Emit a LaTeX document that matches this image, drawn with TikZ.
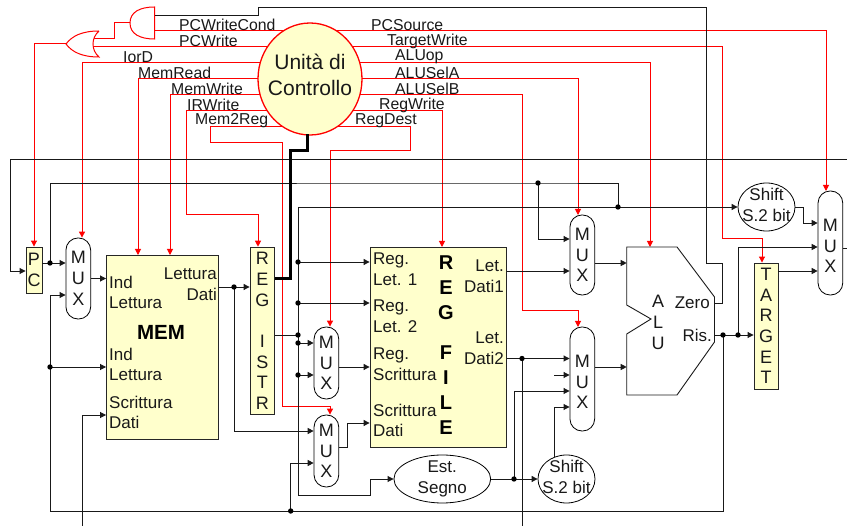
\documentclass[tikz,border=0pt]{standalone}
\usepackage{fontspec}
\setmainfont{Liberation Sans}
\usetikzlibrary{arrows.meta, backgrounds, shapes.geometric}
\definecolor{blockyellow}{HTML}{FFFFCC}
\tikzset{
	wire/.style={line width=0.9pt, color=black!90},
	redwire/.style={line width=1pt, color=red},
	busline/.style={line width=3pt, black},
	siglabel/.style={font=\fontsize{15.8}{18}\selectfont, inner sep=0pt, anchor=west, text=black!90},
	blocktext/.style={font=\fontsize{17}{20.7}\selectfont, inner sep=0pt, anchor=west, align=left, text=black!90},
	blocktextr/.style={blocktext, anchor=east, align=right},
	stacktext/.style={font=\fontsize{17}{20.7}\selectfont, inner sep=0pt, align=center, text=black!90},
	stackletter/.style={stacktext, font=\fontsize{18}{20.7}\selectfont},
	yellowbox/.style={draw=black!85, line width=0.9pt, fill=blockyellow, inner sep=0pt},
	muxbox/.style={draw=black, line width=0.8pt, fill=white, rectangle, rounded corners=12pt, minimum width=24.7pt, inner sep=0pt},
	oval/.style={draw=black, line width=0.8pt, fill=white, ellipse, inner sep=0pt}
}
\begin{document}
\begin{tikzpicture}[x=1pt, y=-1pt, >={Triangle[length=6pt,width=6pt]}]
      \useasboundingbox (0,0) rectangle (847,526);
      % blocks
      \node[yellowbox, minimum width=16pt, minimum height=46pt, stackletter] (pc) at (34,270) {P\\C};
      \node[muxbox, minimum height=81pt, stackletter] (mux0) at (78.3,278.5) {M\\U\\X};
      \node[yellowbox, minimum width=112pt, minimum height=184pt] (mem) at (162.5,347) {};
      \node[yellowbox, minimum width=24.5pt, minimum height=167.7pt, stackletter] (regi) at (262.3,331) {R\\E\\G\\~\\I\\S\\T\\R};
      \node[yellowbox, minimum width=136.7pt, minimum height=200pt] (regf) at (438.4,347) {};
      \node[muxbox, minimum height=72pt, stackletter] (mux1) at (326.4,363) {M\\U\\X};
      \node[muxbox, minimum height=72pt, stackletter] (mux2) at (326.4,451) {M\\U\\X};
      \node[muxbox, minimum height=80pt, stackletter] (mux3) at (582.3,255) {M\\U\\X};
      \node[muxbox, minimum height=104pt] (mux4) at (582.3,379) {};
      \node[stackletter] (mux4txt) at (582.3,382) {M\\U\\X};
      \node[muxbox, minimum height=104pt] (muxp) at (830.4,243) {};
      \node[stackletter] (muxptxt) at (830.4,246) {M\\U\\X};
      \node[yellowbox, minimum width=24pt, minimum height=126pt, stackletter] (target) at (766,326) {T\\A\\R\\G\\E\\T};
      \node[oval, minimum width=96.7pt, minimum height=48pt] (est) at (442.3,479) {};
      \node[stacktext] (esttxt) at (442.3,479) {Est.\\Segno};
      \node[oval, minimum width=57pt, minimum height=48pt] (shift1) at (766.5,207) {};
      \node[stacktext] (shift1txt) at (766.5,205) {Shift\\S.2 bit};
      \node[oval, minimum width=57pt, minimum height=48pt] (shift2) at (566.5,479) {};
      \node[stacktext] (shift2txt) at (566.5,477) {Shift\\S.2 bit};
      \node[draw=red, line width=1.3pt, fill=blockyellow, ellipse, minimum width=104pt, minimum height=112pt, inner sep=0pt] (ctrl) at (310,79) {};
      \node[inner sep=0pt, align=center, font=\fontsize{21}{26}\selectfont, text=black!90] (ctrltxt) at (310,74.5) {Unità di\\Controllo};
      % ALU outline
      \draw[wire] (626.7,247) coordinate (alutop) -- (677,247) -- (714.5,297) -- (714.5,342) -- (677,395) -- (626.7,395)
        -- (626.7,334) -- (651,319) -- (626.7,305) -- cycle;
      \node[stackletter] (alutxt) at (658,322.5) {A\\L\\U};
      \node[blocktextr] (zero) at (710,303) {Zero};
      \node[blocktextr] (ris) at (712,335) {Ris.};
      % gates
      \draw[redwire, fill=white] (154.5,7) .. controls (140,7) and (130,12) .. (130,23) .. controls (130,34) and (140,39) .. (154.5,39) -- cycle;
      \draw[redwire, fill=white] (99,31) .. controls (82,31) and (72,36) .. (66,44) .. controls (72,52) and (82,57) .. (99,57)
        .. controls (91,50) and (91,38) .. (99,31);
      \coordinate (andout) at (130,23);
      \coordinate (andin1) at (154.5,15);
      \coordinate (andin2) at (154.5,31);
      \coordinate (orout) at (66,44);
      \coordinate (orin1) at (93,39);
      \coordinate (orin2) at (93,47);
      % block texts
      \node[blocktext] (memin1) at (109,292.5) {Ind\\Lettura};
      \node[blocktext] (memin2) at (109,364.5) {Ind\\Lettura};
      \node[blocktext] (memin3) at (109,412.5) {Scrittura\\Dati};
      \node[blocktextr] (memout) at (217,284.5) {Lettura\\Dati};
      \node[font=\fontsize{20.5}{24}\selectfont\bfseries, inner sep=0pt] (memname) at (161,332) {MEM};
      \node[blocktext] (regin1) at (373,269) {Reg.\\Let. 1};
      \node[blocktext] (regin2) at (373,316.5) {Reg.\\Let. 2};
      \node[blocktext] (regin3) at (373,364.5) {Reg.\\Scrittura};
      \node[blocktext] (regin4) at (373,420.5) {Scrittura\\Dati};
      \node[blocktextr] (regout1) at (504,276.5) {Let.\\Dati1};
      \node[blocktextr] (regout2) at (504,348.5) {Let.\\Dati2};
      \node[font=\fontsize{20}{25}\selectfont\bfseries, inner sep=0pt, align=center] (regname) at (446,345) {R\\E\\G\\[15pt]F\\I\\L\\E};
      % signal names
      \foreach \sname/\x/\y in {PCWriteCond/179/25, PCWrite/179/41, IorD/123/57, MemRead/138/73, MemWrite/171/89, IRWrite/187/105, Mem2Reg/195/121,
        PCSource/371/25, TargetWrite/387/41, ALUop/395/57, ALUSelA/395/73, ALUSelB/395/89, RegWrite/379/105, RegDest/355/121}
        \node[siglabel] (\sname) at (\x,\y) {\sname};
      % control lines
      \begin{scope}[on background layer]
        \draw[redwire] (ctrl.center |- andin2) -- (andin2);
        \draw[redwire] (andout) -- (114,23) |- (orin1);
        \draw[redwire] (ctrl.center |- orin2) -- (orin2);
        \draw[redwire, ->] (orout) -| (pc.north);
        \draw[redwire, ->] (ctrl.center |- 0,63) -| (mux0.north -| 82,0);
        \draw[redwire, ->] (ctrl.center |- 0,79) -| (138,255);
        \draw[redwire, ->] (ctrl.center |- 0,95) -| (170,255);
        \draw[redwire, ->] (ctrl.center |- 0,111) -| (186,215) -| (regi.north -| 258,0);
        \draw[redwire, ->] (ctrl.center |- 0,127) -| (210,143) -| (282,407) -| (mux2.north -| 330,0);
        \draw[redwire, ->] (ctrl.center |- 0,127) -| (410,151) -| (mux1.north -| 330,0);
        \draw[redwire, ->] (ctrl.center |- 0,111) -| (442,247);
        \draw[redwire, ->] (ctrl.center |- 0,95) -| (522,311) -| (578,327);
        \draw[redwire, ->] (ctrl.center |- 0,79) -| (578,215);
        \draw[redwire, ->] (ctrl.center |- 0,63) -| (alutop -| 650,0);
        \draw[redwire, ->] (ctrl.center |- 0,47) -| (722.7,239) -| (target.north -| 762,0);
        \draw[redwire, ->] (ctrl.center |- 0,31) -| (826,191);
      \end{scope}
      % junctions
      \coordinate (railr) at (847,159);
      \coordinate (pcin) at (10,271);
      \coordinate (railb) at (50,511);
      \coordinate (jpc) at (50,263);
      \coordinate (jaddr) at (50,367);
      \coordinate (jdati) at (234,287);
      \coordinate (jir0) at (298,207);
      \coordinate (jir1) at (298,262);
      \coordinate (jir2) at (298,303);
      \coordinate (jir3) at (298,335);
      \coordinate (jir4) at (298,343);
      \coordinate (jir5) at (298,375);
      \coordinate (jret) at (290.7,511);
      \coordinate (jbus) at (538,183);
      \coordinate (jshift) at (618,207);
      \coordinate (jdati2) at (522,358.5);
      \coordinate (jest) at (514,479);
      \coordinate (jalu) at (723,335);
      \coordinate (jris) at (738,335);
      \coordinate (aluzero) at (714.5,303);
      \coordinate (alures) at (714.5,335);
      \coordinate (irbus) at (290,279);
      \coordinate (ctrlbus) at (307,134.5);
      % datapath, left part
      \draw[wire, ->] (railr) -| (pcin) -- (pc.west |- pcin);
      \draw[wire, ->] (pc.east |- jpc) -- (mux0.west |- jpc);
      \draw[wire] (jpc) |- (jbus) -| (jshift);
      \draw[wire, ->] (mux0.east) -- (mem.west |- mux0.east);
      \draw[wire, ->] (jalu) |- (railb) |- (mux0.west |- 0,295);
      \draw[wire, ->] (jaddr) -- (mem.west |- jaddr);
      \draw[wire, ->] (82,526) |- (mem.west |- 0,415);
      \draw[wire, ->] (mem.east |- jdati) -- (regi.west |- jdati);
      \draw[wire, ->] (jdati) |- (mux2.west |- 0,431);
      \draw[wire, ->] (jret) |- (mux2.west |- 0,463);
      % instruction register fan out
      \draw[busline] (ctrlbus) -- (307,151) -| (irbus) -- (regi.east |- irbus);
      \draw[wire] (regi.east |- jir3) -- (jir3);
      \draw[wire, ->] (jir0) -- (shift1.west);
      \draw[wire, ->] (jir0) |- (370,495) |- (est.west);
      \draw[wire, ->] (jir1) -- (regf.west |- jir1);
      \draw[wire, ->] (jir2) -- (regf.west |- jir2);
      \draw[wire, ->] (jir4) -- (mux1.west |- jir4);
      \draw[wire, ->] (jir5) -- (mux1.west |- jir5);
      \draw[wire, ->] (mux1.east |- 0,367) -- (regf.west |- 0,367);
      \draw[wire, ->] (mux2.east |- 0,447) -- (347,447) |- (regf.west |- 0,423);
      % datapath, right part
      \draw[wire, ->] (jbus) |- (mux3.west |- 0,239);
      \draw[wire, ->] (regf.east |- 0,271) -- (mux3.west |- 0,271);
      \draw[wire, ->] (mux3.east |- 0,263) -- (alutop |- 0,263);
      \draw[wire, ->] (regf.east |- jdati2) -- (mux4.west |- jdati2);
      \draw[wire] (jdati2) -- (522,526);
      \draw[wire, ->] (554,375) -- (mux4.west |- 0,375);
      \draw[wire, ->] (jest) |- (mux4.west |- 0,391);
      \draw[wire, ->] (554.3,457) |- (mux4.west |- 0,407);
      \draw[wire, ->] (mux4.east |- 0,367) -- (alutop |- 0,367);
      \draw[wire, ->] (est.east) -- (shift2.west);
      \draw[wire] (aluzero) -- (722.5,303) |- (706.5,263) |- (258,7) |- (andin1);
      \draw[wire, ->] (alures) -- (target.west |- alures);
      \draw[wire, ->] (jris) |- (muxp.west |- 0,247);
      \draw[wire, ->] (target.east |- 0,271) -- (muxp.west |- 0,271);
      \draw[wire, ->] (shift1.east) -- (803,207) |- (muxp.west |- 0,223);
      \draw[wire] (muxp.east |- 0,248) -- (847,248);
      % dots
      \foreach \j in {jpc, jaddr, jdati, jir1, jir2, jir3, jir4, jir5, jret, jbus, jshift, jdati2, jest, jalu, jris}
        \fill (\j) circle (2.7pt);
    \end{tikzpicture}
\end{document}
